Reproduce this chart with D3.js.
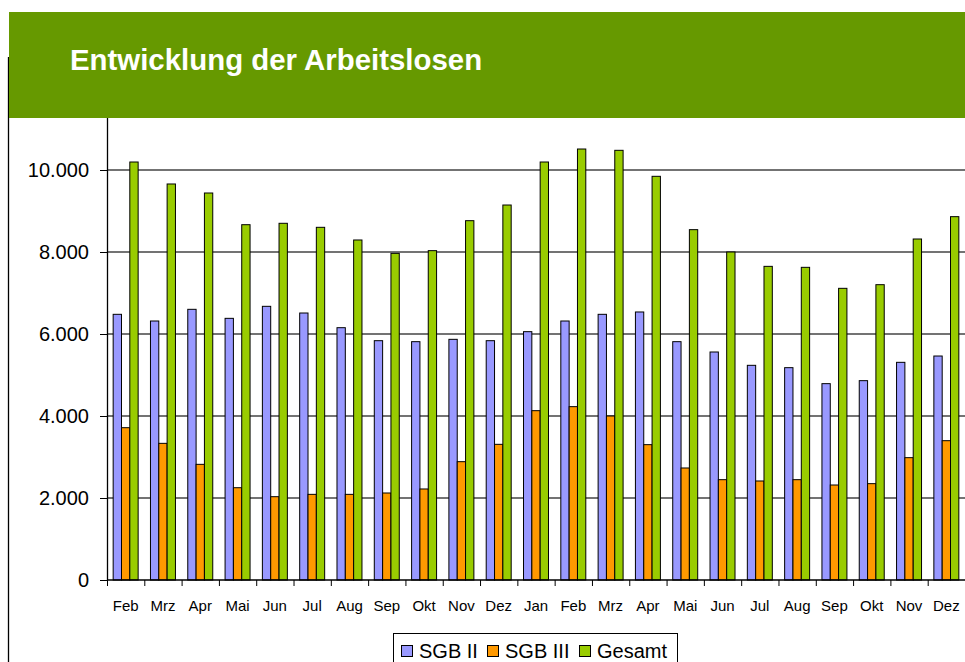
<!DOCTYPE html>
<html>
<head>
    <meta charset="utf-8">
    <title>Entwicklung der Arbeitslosen</title>
    <script src="https://d3js.org/d3.v7.min.js"></script>
    <style>
        body { margin: 0; background: #fff; }
        svg { display: block; font-family: Arial, "Liberation Sans", sans-serif; }
    </style>
</head>
<body>
    <div id="chart"></div>
    <script>
        // Data
        const months = ["Feb", "Mrz", "Apr", "Mai", "Jun", "Jul", "Aug", "Sep", "Okt", "Nov", "Dez",
                        "Jan", "Feb", "Mrz", "Apr", "Mai", "Jun", "Jul", "Aug", "Sep", "Okt", "Nov", "Dez"];
        const sgb2 = [6480, 6317, 6602, 6382, 6675, 6512, 6154, 5837, 5813, 5870, 5837,
                      6057, 6317, 6480, 6537, 5813, 5561, 5236, 5179, 4789, 4862, 5309, 5463];
        const sgb3 = [3715, 3333, 2821, 2251, 2032, 2089, 2089, 2122, 2220, 2886, 3309,
                      4130, 4228, 4000, 3301, 2732, 2447, 2415, 2447, 2317, 2350, 2984, 3398];
        const gesamt = [10195, 9659, 9439, 8666, 8700, 8602, 8293, 7967, 8033, 8764, 9146,
                        10195, 10512, 10480, 9846, 8545, 8000, 7650, 7626, 7114, 7203, 8317, 8862];
        const seriesNames = ["SGB II", "SGB III", "Gesamt"];
        const seriesColors = ["#9999ff", "#ff9900", "#99cc00"];
        const yTicks = [0, 2000, 4000, 6000, 8000, 10000];

        const W = 965, H = 662;
        const left = 107, right = 965, bottom = 580, plotTop = 118;

        const svg = d3.select("#chart")
            .append("svg")
            .attr("width", W)
            .attr("height", H);

        const fmt = d3.formatLocale({ decimal: ",", thousands: ".", grouping: [3], currency: ["", " €"] }).format(",");

        const idx = d3.range(months.length);
        const x0 = d3.scaleBand().domain(idx).range([left, right]).padding(0);
        const x1 = d3.scaleBand().domain(d3.range(3)).range([0, x0.bandwidth()]).paddingInner(0).paddingOuter(0.74);
        const y = d3.scaleLinear().domain([0, 12000]).range([bottom, 88]);

        // Gridlines
        svg.append("g")
            .selectAll("line")
            .data(yTicks.filter(d => d > 0))
            .enter()
            .append("line")
            .attr("x1", left).attr("x2", right)
            .attr("y1", d => y(d)).attr("y2", d => y(d))
            .style("stroke", "#454545")
            .style("stroke-width", 1.3);

        // Bars
        const table = idx.map(i => [sgb2[i], sgb3[i], gesamt[i]]);
        svg.append("g")
            .selectAll("g")
            .data(table)
            .enter()
            .append("g")
            .attr("transform", (d, i) => `translate(${x0(i)},0)`)
            .selectAll("rect")
            .data(d => d.map((v, s) => ({ v, s })))
            .enter()
            .append("rect")
            .attr("x", d => x1(d.s))
            .attr("y", d => y(d.v))
            .attr("width", x1.bandwidth())
            .attr("height", d => bottom - y(d.v))
            .style("fill", d => seriesColors[d.s])
            .style("stroke", "#000")
            .style("stroke-width", 1);

        // Y axis
        const yAxis = svg.append("g")
            .attr("transform", `translate(${left},0)`)
            .call(d3.axisLeft(y).tickValues(yTicks).tickFormat(fmt).tickSize(7).tickPadding(11));
        yAxis.select(".domain").remove();
        yAxis.selectAll("line").style("stroke", "#000");
        yAxis.selectAll("text").style("font-size", "20px").style("fill", "#000");
        svg.append("line")
            .attr("x1", left + 0.5).attr("x2", left + 0.5)
            .attr("y1", plotTop).attr("y2", bottom)
            .style("stroke", "#000").style("stroke-width", 1.3);

        // X axis: boundary ticks and month labels
        const xb = d3.scaleLinear().domain([0, months.length]).range([left, right]);
        const xTicks = svg.append("g")
            .attr("transform", `translate(0,${bottom})`)
            .call(d3.axisBottom(xb).tickValues(d3.range(months.length + 1)).tickFormat("").tickSize(6));
        xTicks.select(".domain").remove();
        xTicks.selectAll("line").style("stroke", "#000");
        svg.append("line")
            .attr("x1", left).attr("x2", right)
            .attr("y1", bottom).attr("y2", bottom)
            .style("stroke", "#000").style("stroke-width", 1.3);

        const xAxis = svg.append("g")
            .attr("transform", `translate(0,${bottom})`)
            .call(d3.axisBottom(x0).tickFormat(i => months[i]).tickSize(0).tickPadding(20));
        xAxis.select(".domain").remove();
        xAxis.selectAll("text").style("font-size", "15px").style("fill", "#000");

        // Left frame line
        svg.append("line")
            .attr("x1", 8.5).attr("x2", 8.5)
            .attr("y1", 57).attr("y2", H)
            .style("stroke", "#000").style("stroke-width", 1.3);

        // Header
        svg.append("rect")
            .attr("x", 9).attr("y", 12)
            .attr("width", W - 9).attr("height", 106)
            .style("fill", "#669900");
        svg.append("text")
            .attr("x", 70).attr("y", 70)
            .text("Entwicklung der Arbeitslosen")
            .style("fill", "#fff")
            .style("font-weight", "bold")
            .style("font-size", "29.4px");

        // Legend
        const legend = svg.append("g");
        legend.append("rect")
            .attr("x", 393.5).attr("y", 633.5)
            .attr("width", 284).attr("height", 40)
            .style("fill", "#fff")
            .style("stroke", "#000");
        const legendX = [401, 487, 579];
        const item = legend.selectAll("g.item")
            .data(seriesNames)
            .enter()
            .append("g")
            .attr("class", "item")
            .attr("transform", (d, i) => `translate(${legendX[i]},0)`);
        item.append("rect")
            .attr("x", 0.5).attr("y", 645.5)
            .attr("width", 11).attr("height", 11)
            .style("fill", (d, i) => seriesColors[i])
            .style("stroke", "#000");
        item.append("text")
            .attr("x", 18).attr("y", 658)
            .text(d => d)
            .style("font-size", "20px")
            .style("fill", "#000");
    </script>
</body>
</html>
